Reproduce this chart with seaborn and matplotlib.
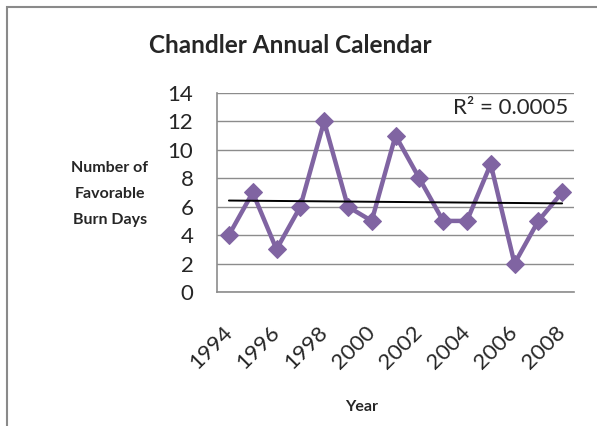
import numpy as np
import pandas as pd
import matplotlib
matplotlib.use('Agg')
import matplotlib.pyplot as plt
import seaborn as sns
from matplotlib.patches import Rectangle

# burn days per year
years = [1994, 1995, 1996, 1997, 1998, 1999, 2000, 2001,
         2002, 2003, 2004, 2005, 2006, 2007, 2008]
burn_days = [4, 7, 3, 6, 12, 6, 5, 11, 8, 5, 5, 9, 2, 5, 7]
tick_years = [1994, 1996, 1998, 2000, 2002, 2004, 2006, 2008]
y_ticks = [0, 2, 4, 6, 8, 10, 12, 14]

df = pd.DataFrame({'Year': years, 'Days': burn_days})

sns.set_style('white')
plt.rcParams['font.family'] = ['Lato', 'DejaVu Sans']

fig = plt.figure(figsize=(5.97, 4.26), dpi=100)
ax = fig.add_axes([0.3635, 0.3146, 0.598, 0.4671])

purple = '#8064A2'
grid_col = '#8c8c8c'

sns.lineplot(data=df, x='Year', y='Days', ax=ax, color=purple, lw=3.2,
             marker='D', markersize=9.5, markeredgecolor=purple, zorder=3)

# linear trendline + R^2 like excel does it
x = np.array(years, dtype=float)
y = np.array(burn_days, dtype=float)
slope, icpt = np.polyfit(x, y, 1)
fit = slope * x + icpt
r2 = 1 - np.sum((y - fit) ** 2) / np.sum((y - y.mean()) ** 2)
ax.plot(x, fit, color='black', lw=1.4, zorder=4)
ax.text(0.985, 0.925, f'R² = {r2:.4f}', transform=ax.transAxes,
        ha='right', va='center', fontsize=16)

ax.set_xlim(years[0] - 0.5, years[-1] + 0.5)
ax.set_ylim(0, 14)
ax.set_yticks(y_ticks)
ax.set_xticks(tick_years)
ax.set_xticklabels([str(t) for t in tick_years], rotation=45, ha='right', va='center',
                   rotation_mode='anchor', fontsize=16)
ax.set_xticks(np.arange(years[0] - 0.5, years[-1] + 1), minor=True)
ax.tick_params(axis='x', which='major', length=0, pad=27)
ax.tick_params(axis='x', which='minor', length=6, color=grid_col, width=1, direction='out')
ax.tick_params(axis='y', length=7, color=grid_col, width=1, direction='out',
               labelsize=16, pad=10)
ax.yaxis.grid(True, color=grid_col, lw=1)
ax.xaxis.grid(False)
for s in ['top', 'right']:
    ax.spines[s].set_visible(False)
for s in ['left', 'bottom']:
    ax.spines[s].set_color(grid_col)
    ax.spines[s].set_linewidth(1.2)
ax.set_xlabel('')
ax.set_ylabel('')

fig.text(0.486, 0.894, 'Chandler Annual Calendar', ha='center', va='center',
         fontsize=17.5, fontweight='bold')
fig.text(0.184, 0.545, 'Number of\nFavorable\nBurn Days', ha='center', va='center',
         fontsize=11.5, fontweight='bold', linespacing=2.1)
fig.text(0.605, 0.045, 'Year', ha='center', va='center', fontsize=11.5, fontweight='bold')

# chart border (runs off the right/bottom edge in the original)
fig.patches.append(Rectangle((0.0117, -0.05), 1.2, 0.984 + 0.05, transform=fig.transFigure,
                             fill=False, edgecolor='#8a8a8a', lw=1.5))

fig.savefig('out.png', dpi=100)
